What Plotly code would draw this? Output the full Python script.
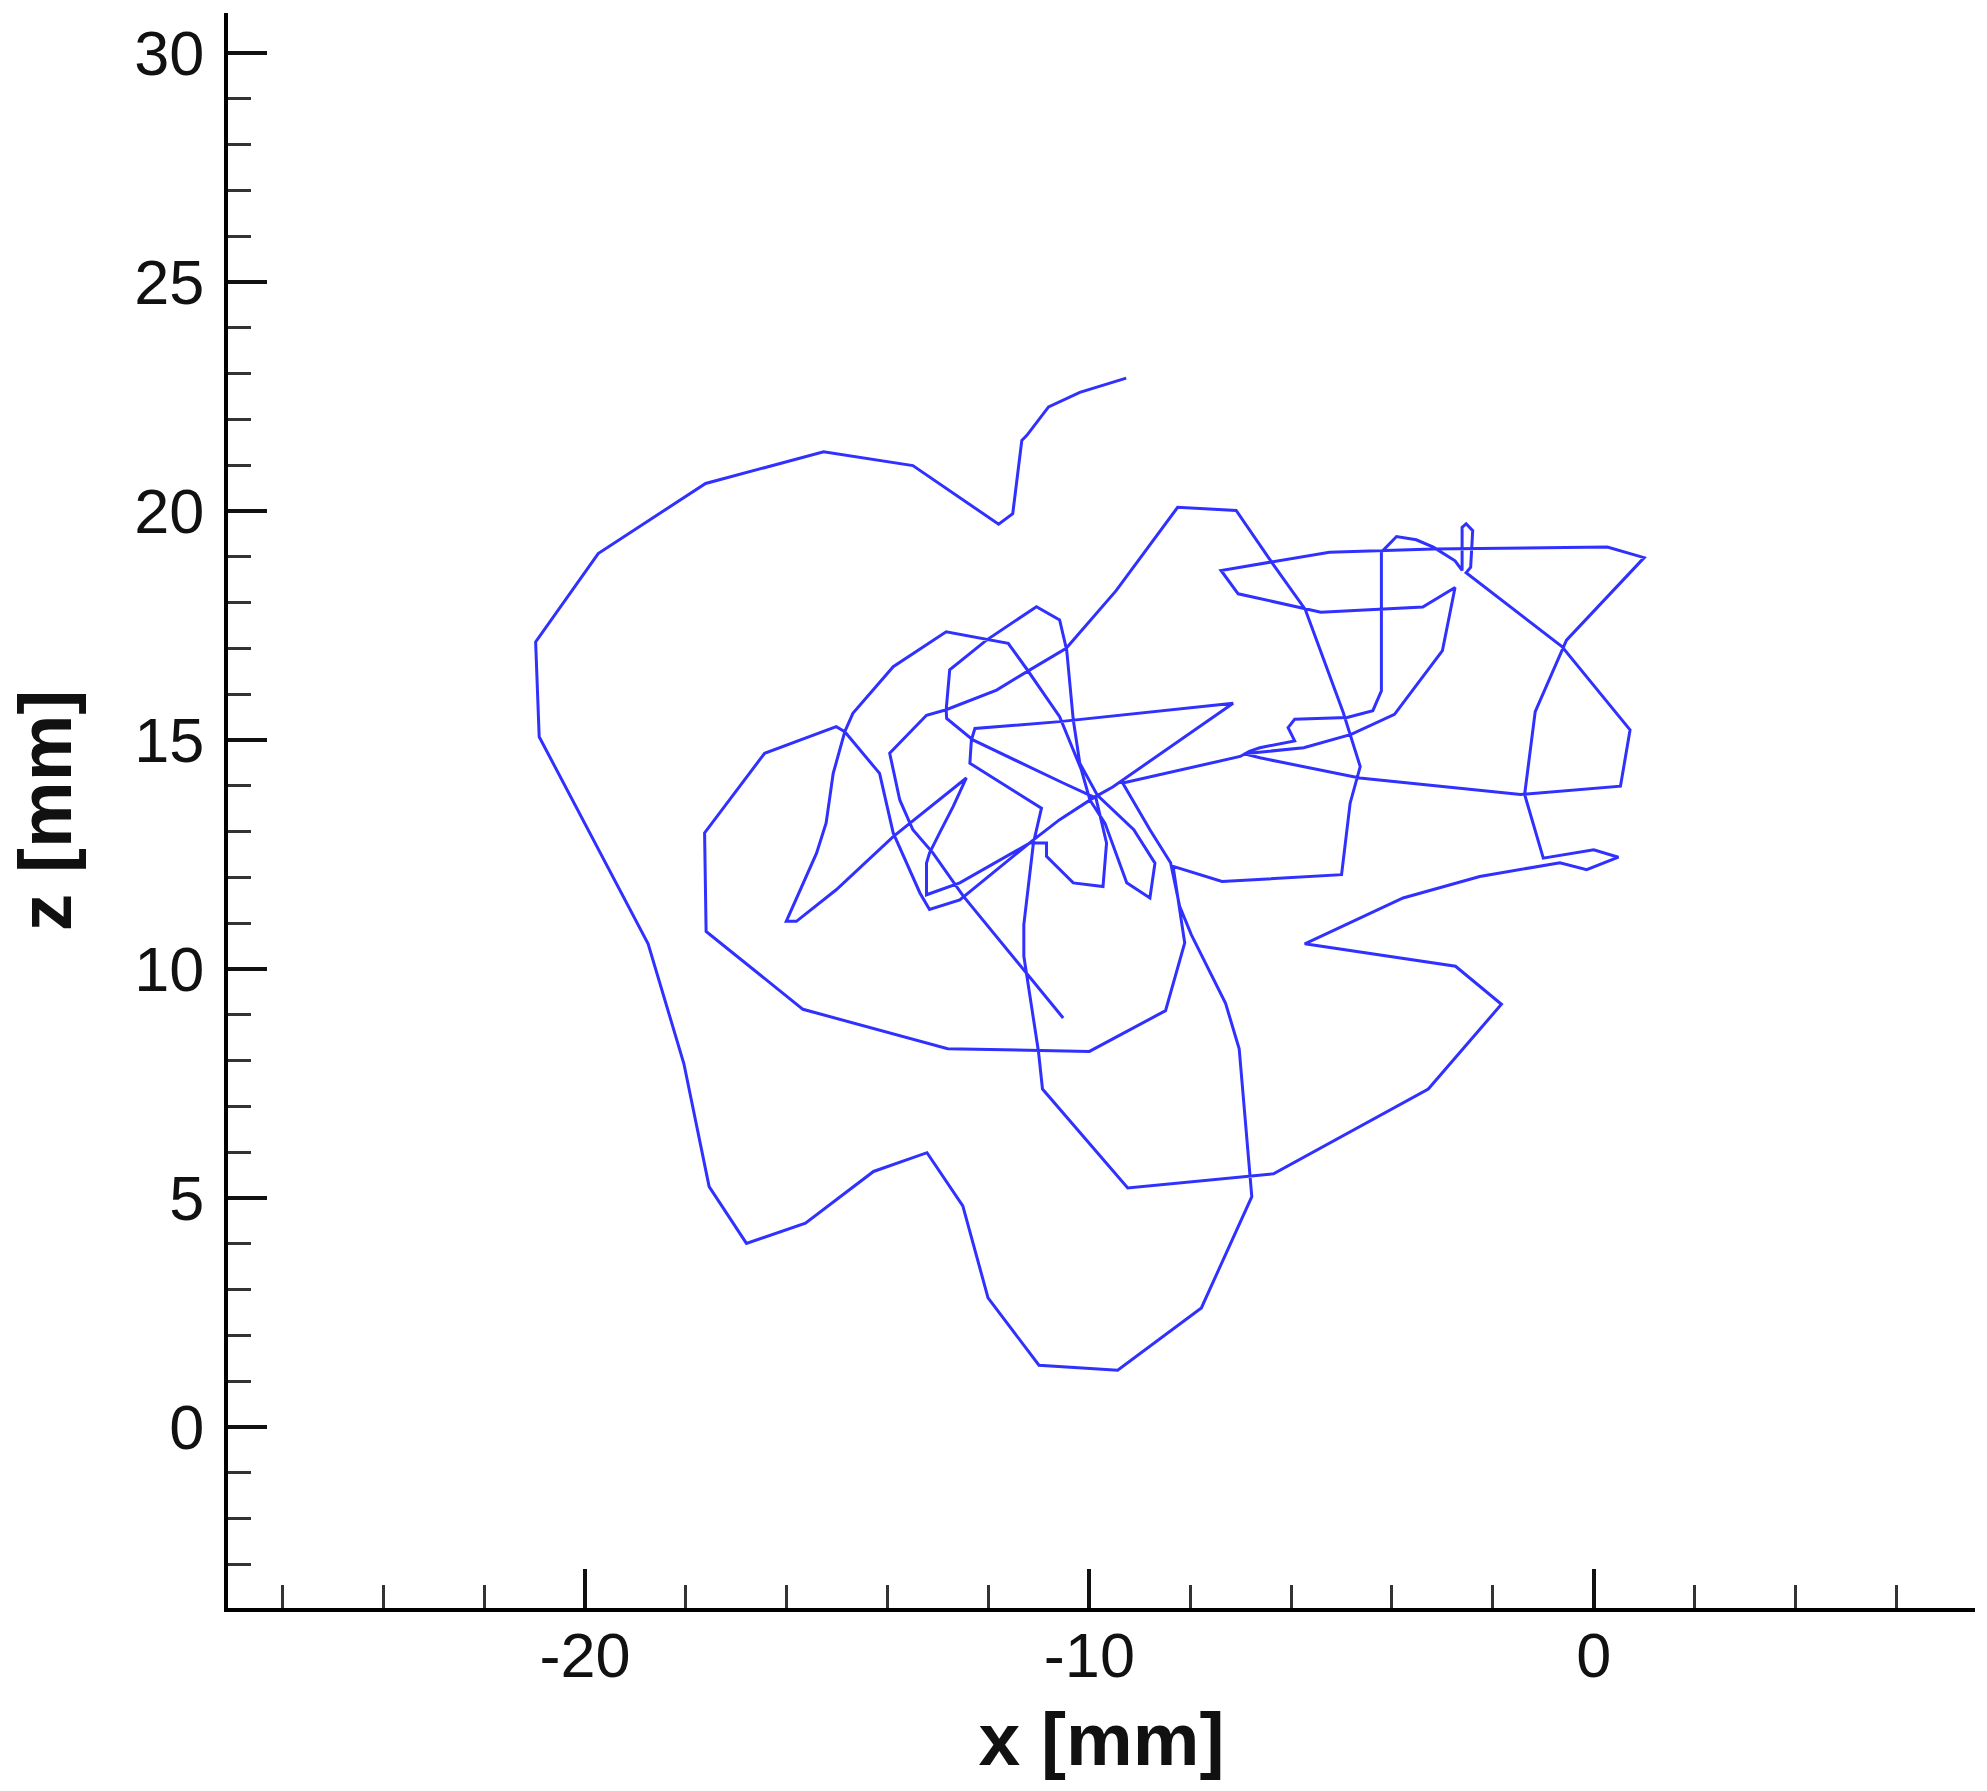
import plotly.graph_objects as go

# Trajectory (x [mm], z [mm]), in drawing order
x_mm = [-9.27, -10.19, -10.81, -11.24, -11.34, -11.52, -11.80, -13.50, -15.27, -17.61,
        -19.74, -20.98, -20.91, -18.75, -18.04, -17.54, -16.80, -15.63, -14.28, -13.22, -12.51,
        -12.01, -11.00, -9.44, -7.78, -6.78, -7.03, -7.30, -7.98, -8.21, -8.39,
        -8.80, -9.34, -7.01, -6.83, -6.62, -5.93, -6.06, -5.93, -4.89, -4.38,
        -4.21, -4.21, -3.91, -3.52, -3.18, -2.75, -2.61, -2.61, -2.53, -2.40,
        -2.44, -2.53, -0.63, 0.72, 0.53, -1.45, -4.64, -6.62, -6.93, -5.75,
        -4.81, -3.95, -3.00, -2.75, -3.39, -5.41, -7.05, -7.39, -6.27, -5.24,
        -3.18, 0.27, 1.00, -0.54, -1.16, -1.37, -1.00, 0.00, 0.49, -0.14,
        -0.67, -2.26, -3.78, -5.73, -2.74, -1.83, -3.28, -6.35, -9.24, -10.93,
        -11.01, -11.30, -11.30, -11.11, -10.95, -12.37, -12.34, -12.27, -10.59, -7.15,
        -9.53, -9.93, -10.59, -11.11, -12.57, -13.17, -13.36, -13.89, -14.16, -14.85,
        -14.69, -13.89, -12.84, -12.11, -11.61, -11.25, -10.59, -10.16, -9.99, -9.69,
        -9.53, -9.26, -8.80, -8.70, -9.12, -9.84, -10.19, -10.32, -10.45, -10.59,
        -11.05, -12.04, -12.77, -12.84, -12.83, -12.31, -10.52, -9.87, -9.66, -9.73,
        -10.32, -10.85, -10.85, -11.18, -12.57, -13.23, -13.23, -13.17, -12.97, -12.70,
        -12.44, -13.89, -15.02, -15.81, -16.01, -15.41, -15.22, -15.08, -14.85, -15.02,
        -16.44, -17.63, -17.60, -15.68, -12.81, -10.00, -8.49, -8.11, -8.34, -7.37,
        -5.00, -4.83, -4.63, -4.82, -4.97, -5.72, -6.36, -7.09, -8.25, -9.47,
        -10.46, -11.18, -11.84, -12.84, -13.23, -13.96, -13.76, -13.50, -13.10, -12.50,
        -10.52]
z_mm = [22.90, 22.59, 22.27, 21.65, 21.54, 19.94, 19.71, 20.99, 21.29, 20.60,
        19.07, 17.14, 15.07, 10.55, 7.93, 5.25, 4.01, 4.45, 5.58, 5.99, 4.83,
        2.82, 1.35, 1.24, 2.60, 5.03, 8.26, 9.25, 10.75, 11.37, 12.32,
        13.04, 14.06, 14.64, 14.75, 14.83, 14.98, 15.27, 15.45, 15.49, 15.64,
        16.07, 19.10, 19.44, 19.37, 19.21, 18.91, 18.70, 19.64, 19.72, 19.57,
        18.77, 18.65, 17.04, 15.22, 13.99, 13.81, 14.17, 14.61, 14.70, 14.83,
        15.12, 15.56, 16.95, 18.33, 17.90, 17.79, 18.19, 18.70, 18.91, 19.10,
        19.17, 19.21, 18.98, 17.18, 15.62, 13.81, 12.42, 12.60, 12.44, 12.17,
        12.32, 12.02, 11.55, 10.55, 10.06, 9.23, 7.38, 5.53, 5.22, 7.38,
        8.20, 10.28, 10.97, 12.75, 13.51, 14.49, 15.00, 15.25, 15.40, 15.80,
        13.98, 13.73, 13.26, 12.82, 11.51, 11.30, 11.66, 12.97, 14.27, 15.18,
        15.58, 16.60, 17.36, 17.22, 17.11, 16.56, 15.51, 14.35, 13.69, 13.18,
        12.71, 11.88, 11.55, 12.31, 13.04, 13.79, 14.49, 15.44, 16.96, 17.62,
        17.91, 17.18, 16.53, 15.66, 15.47, 15.00, 14.06, 13.73, 12.75, 11.80,
        11.88, 12.46, 12.75, 12.75, 11.88, 11.62, 12.31, 12.53, 12.97, 13.55,
        14.17, 12.89, 11.73, 11.04, 11.04, 12.53, 13.19, 14.27, 15.18, 15.29,
        14.71, 12.97, 10.82, 9.12, 8.26, 8.20, 9.09, 10.57, 12.24, 11.91,
        12.06, 13.62, 14.42, 15.11, 15.61, 17.85, 18.84, 20.01, 20.08, 18.26,
        17.00, 16.53, 16.09, 15.66, 15.54, 14.71, 13.69, 13.04, 12.53, 11.59,
        8.93]

x_range = [-27.08, 7.56]
z_range = [-3.95, 30.87]
x_major_ticks = [-20, -10, 0]
z_major_ticks = [0, 5, 10, 15, 20, 25, 30]
x_title = "<b>x [mm]</b>"
z_title = "<b>z [mm]</b>"

FONT = "Liberation Sans, Arial, sans-serif"

fig = go.Figure()
fig.add_trace(go.Scatter(
    x=x_mm, y=z_mm, mode="lines",
    line=dict(color="rgb(48,48,255)", width=3),
    showlegend=False, hoverinfo="skip",
))

common = dict(
    showgrid=False, zeroline=False, showline=True, linecolor="black", linewidth=4,
    ticks="inside", tickcolor="#111", tickwidth=4, ticklen=39,
    tickfont=dict(family=FONT, size=63, color="#111"),
    mirror=False,
)

fig.update_xaxes(
    range=x_range, tickmode="array", tickvals=x_major_ticks,
    ticktext=[str(v) for v in x_major_ticks],
    minor=dict(ticks="inside", dtick=2, tick0=0, ticklen=23, tickwidth=3,
               tickcolor="#333", showgrid=False),
    title=dict(text=x_title, font=dict(family=FONT, size=75, color="#111"), standoff=25),
    ticklabelstandoff=-11,
    **common,
)
fig.update_yaxes(
    range=z_range, tickmode="array", tickvals=z_major_ticks,
    ticktext=[str(v) for v in z_major_ticks],
    minor=dict(ticks="inside", dtick=1, tick0=0, ticklen=23, tickwidth=3,
               tickcolor="#333", showgrid=False),
    title=dict(text=z_title, font=dict(family=FONT, size=75, color="#111"), standoff=39),
    ticklabelstandoff=7,
    **common,
)

fig.update_layout(
    width=1987, height=1791,
    margin=dict(l=228, r=12, t=13, b=183, pad=0, autoexpand=False),
    plot_bgcolor="white", paper_bgcolor="white",
)

fig.write_html("out.html", config={"displayModeBar": False},
               post_script="document.body.style.margin='0';")
